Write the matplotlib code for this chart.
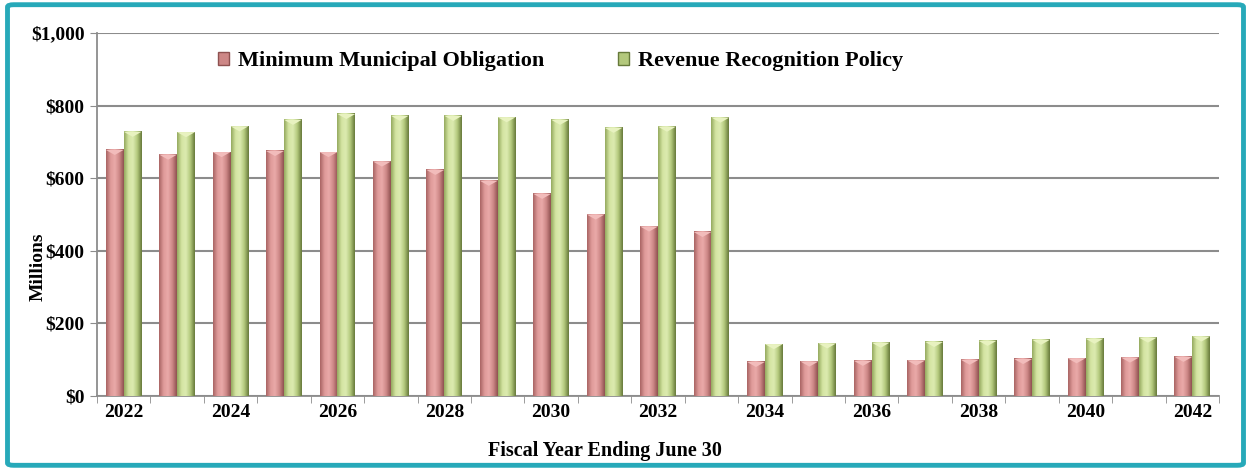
import numpy as np
import matplotlib
matplotlib.use("Agg")
import matplotlib.pyplot as plt
from matplotlib.colors import LinearSegmentedColormap
from matplotlib.patches import FancyBboxPatch, Polygon, Patch

# # Data

years = list(range(2022, 2043))
min_obligation = [678, 665, 672, 675, 672, 646, 623, 593, 557, 500, 467, 452,
                  94, 95, 97, 98, 100, 102, 104, 106, 108]
revenue_policy = [728, 727, 743, 761, 777, 772, 772, 768, 761, 739, 742, 767,
                  143, 145, 147, 149, 152, 155, 158, 161, 164]
series_names = ['Minimum Municipal Obligation', 'Revenue Recognition Policy']
y_ticks = [0, 200, 400, 600, 800, 1000]

# # Styles

plt.rcParams['font.family'] = ['Liberation Serif', 'DejaVu Serif']
plt.rcParams['font.weight'] = 'bold'

red_cmap = LinearSegmentedColormap.from_list(
    'red_cyl', ['#a86463', '#df9a99', '#eaaaa9', '#cd8786', '#8e5150'])
green_cmap = LinearSegmentedColormap.from_list(
    'green_cyl', ['#94a95e', '#d4e4a2', '#dcebb0', '#b3c87c', '#66793a'])
red_top = '#f2bcbb'
green_top = '#e8f2c0'

fig = plt.figure(figsize=(12.51, 4.70), dpi=100)
ax = fig.add_axes([0.0775, 0.1574, 0.897, 0.7724])

x = np.arange(len(years))
width = 0.335
gradient = np.linspace(0, 1, 64).reshape(1, -1)


# Draws a cylinder-like shaded bar series
def shadedBars(offset, values, cmap, top_color):
    bars = ax.bar(x + offset, values, width, color='none', edgecolor='none', zorder=3)
    for bar in bars:
        bx, bw, bh = bar.get_x(), bar.get_width(), bar.get_height()
        ax.imshow(gradient, cmap=cmap, aspect='auto', extent=[bx, bx + bw, 0, bh],
                  zorder=3, interpolation='bicubic')
        tip = 14
        tri = Polygon([[bx, bh], [bx + bw, bh], [bx + bw / 2, bh - tip]],
                      closed=True, facecolor=top_color, edgecolor='none', zorder=4)
        ax.add_patch(tri)
    return bars


shadedBars(-width / 2, min_obligation, red_cmap, red_top)
shadedBars(width / 2, revenue_policy, green_cmap, green_top)

ax.set_xlim(-0.5, len(years) - 0.5)
ax.set_ylim(0, 1000)

ax.set_yticks(y_ticks)
ax.set_yticklabels(['${:,}'.format(v) for v in y_ticks], fontsize=14, fontweight='bold')
ax.yaxis.grid(True, color='#8c8c8c', linewidth=1.5, zorder=0)
ax.set_axisbelow(True)

ax.set_xticks(x[::2])
ax.set_xticklabels([str(y) for y in years[::2]], fontsize=14, fontweight='bold')
ax.set_xticks(np.arange(-0.5, len(years) + 0.5, 1), minor=True)
ax.tick_params(axis='x', which='major', length=0, pad=6)
ax.tick_params(axis='x', which='minor', length=5, color='#8c8c8c', direction='out')
ax.tick_params(axis='y', length=5, color='#8c8c8c', pad=4)

for side in ['top', 'right']:
    ax.spines[side].set_visible(False)
for side in ['left', 'bottom']:
    ax.spines[side].set_color('#8c8c8c')
    ax.spines[side].set_linewidth(1.3)

ax.set_ylabel('Millions', fontsize=14, fontweight='bold')
ax.yaxis.set_label_coords(-0.045, 0.355)
ax.set_xlabel('Fiscal Year Ending June 30', fontsize=14.5, fontweight='bold')
ax.xaxis.set_label_coords(0.453, -0.125)

handles = [Patch(facecolor='#cd8786', edgecolor='#8e5150'),
           Patch(facecolor='#b3c87c', edgecolor='#66793a')]
leg = ax.legend(handles, series_names, loc='upper left', bbox_to_anchor=(0.09, 1.005),
                ncol=2, frameon=False, handlelength=0.5, handleheight=0.5,
                handletextpad=0.4, columnspacing=3.3,
                prop={'weight': 'bold', 'size': 16})

# Teal frame around the whole picture
frame = FancyBboxPatch((0.006, 0.01), 0.988, 0.98, boxstyle='round,pad=0,rounding_size=0.005',
                       transform=fig.transFigure, facecolor='none', edgecolor='#27a9b9',
                       linewidth=3.5, zorder=10)
fig.patches.append(frame)

plt.savefig('out.png', dpi=100)
